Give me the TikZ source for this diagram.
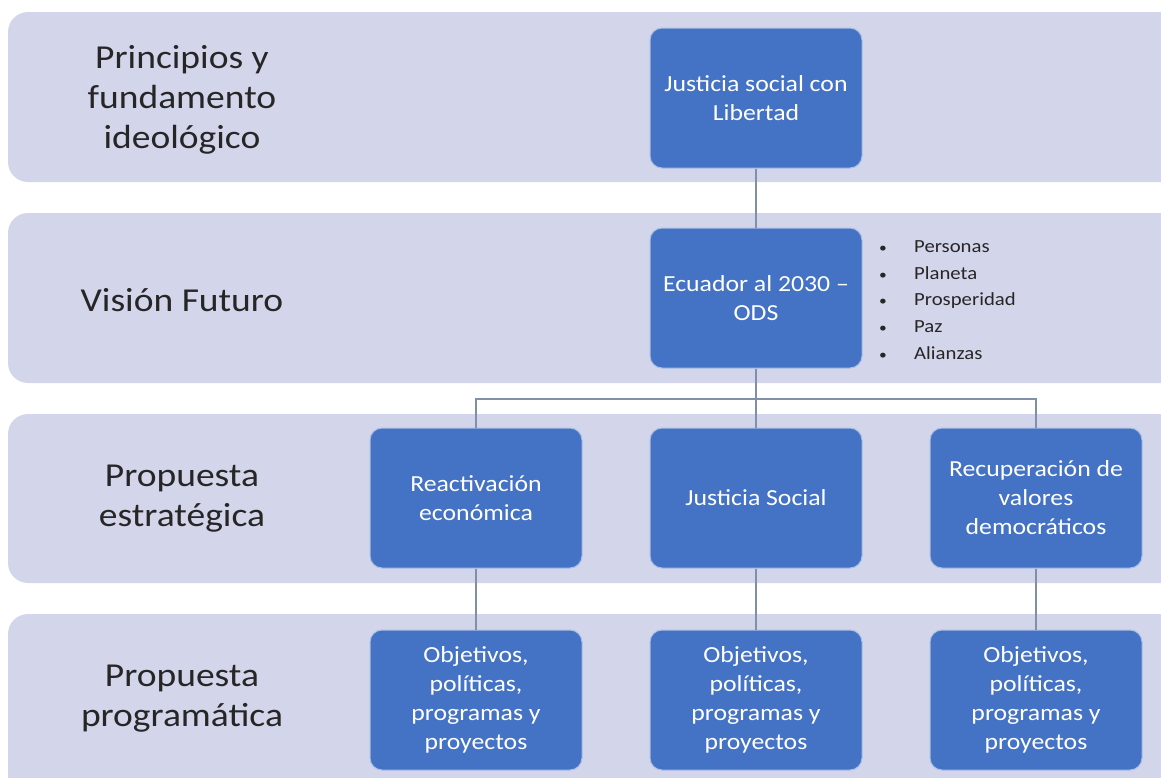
\documentclass[tikz,border=0pt]{standalone}
\usepackage{fontspec}
\setmainfont{Carlito}[FakeStretch=1.12]
\usetikzlibrary{calc}
\definecolor{bandfill}{HTML}{D3D5EA}
\definecolor{boxfill}{HTML}{4472C4}
\definecolor{linkgray}{HTML}{8090A8}
\definecolor{labeltext}{HTML}{262626}
\tikzset{
  levelbox/.style={draw=white!55!boxfill, line width=1pt, fill=boxfill, rounded corners=12pt,
    minimum width=212pt, minimum height=140pt, align=center, text=white, inner sep=0pt,
    font=\fontsize{23}{29}\selectfont},
  levellabel/.style={align=center, text=labeltext, inner sep=0pt, font=\fontsize{33.5}{40}\selectfont},
  odslist/.style={align=left, text=labeltext, inner sep=0pt, font=\fontsize{18.5}{26.7}\selectfont},
  link/.style={draw=linkgray, line width=1.5pt}
}
\newcommand{\band}[2]{\fill[bandfill, rounded corners=20pt] (8, #1) rectangle (1200, #2);}
\newcommand{\odsitem}[1]{\makebox[35pt][l]{\scalebox{0.75}{\textbullet}}#1}
\begin{document}
\begin{tikzpicture}[x=1pt, y=-1pt]
    \useasboundingbox (0,0) rectangle (1161,777);
    \clip (0,0) rectangle (1161,777);
    % bands
    \band{12}{182}
    \band{213}{383}
    \band{414}{583}
    \band{614}{820}
    % labels
    \node[levellabel] (lprin) at (182,100) {Principios y\\fundamento\\ideológico};
    \node[levellabel] (lvis) at (182,300) {Visión Futuro};
    \node[levellabel] (lestr) at (182,499) {Propuesta\\estratégica};
    \node[levellabel] (lprog) at (182,699) {Propuesta\\programática};
    % row1
    \node[levelbox] (just) at (756,98) {Justicia social con\\Libertad};
    % row2
    \node[levelbox] (ods) at (756,298) {Ecuador al 2030 –\\ODS};
    \node[odslist, anchor=west] (odsl) at (879,300) {\odsitem{Personas}\\\odsitem{Planeta}\\\odsitem{Prosperidad}\\\odsitem{Paz}\\\odsitem{Alianzas}};
    % row3
    \node[levelbox] (reac) at (476,498) {Reactivación\\económica};
    \node[levelbox] (jsoc) at (756,498) {Justicia Social};
    \node[levelbox] (recup) at (1036,498) {Recuperación de\\valores\\democráticos};
    % row4
    \node[levelbox] (obj1) at (476,700) {Objetivos,\\políticas,\\programas y\\proyectos};
    \node[levelbox] (obj2) at (756,700) {Objetivos,\\políticas,\\programas y\\proyectos};
    \node[levelbox] (obj3) at (1036,700) {Objetivos,\\políticas,\\programas y\\proyectos};
    % links
    \coordinate (split) at (756,399);
    \draw[link] (just) -- (ods);
    \draw[link] (ods) -- (jsoc);
    \draw[link] (reac.north) -- (reac.north |- split) -- (recup.north |- split) -- (recup.north);
    \draw[link] (reac) -- (obj1);
    \draw[link] (jsoc) -- (obj2);
    \draw[link] (recup) -- (obj3);
\end{tikzpicture}
\end{document}
